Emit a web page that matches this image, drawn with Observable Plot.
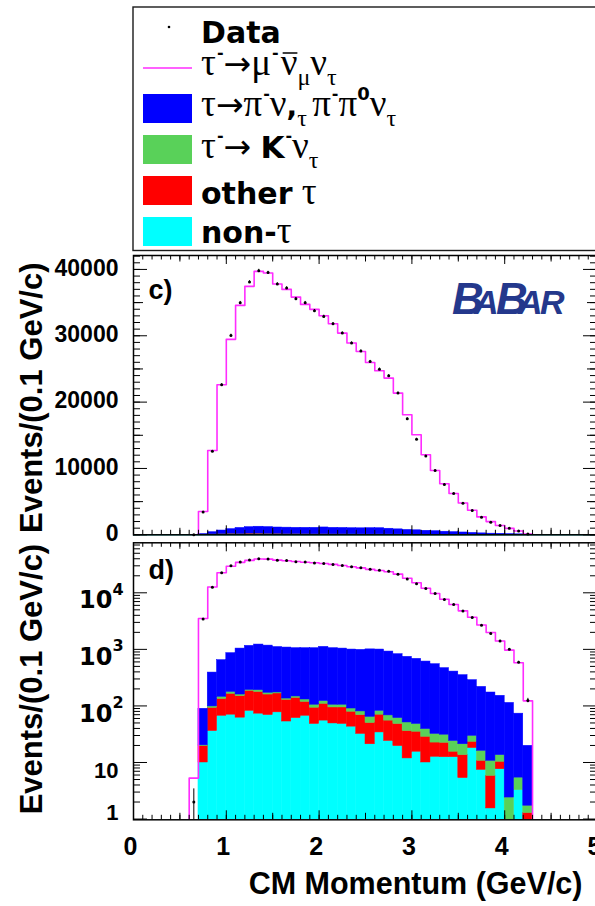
<!DOCTYPE html>
<html><head><meta charset="utf-8">
<script src="https://cdn.jsdelivr.net/npm/d3@7"></script>
<script src="https://cdn.jsdelivr.net/npm/@observablehq/plot@0.6"></script>
<style>
html,body{margin:0;padding:0;background:#fff;overflow:hidden;}
#wrap{position:relative;width:595px;height:906px;overflow:hidden;background:#fff;}
#wrap > svg{position:absolute;left:0;}
</style></head>
<body><div id="wrap"></div>
<script>
// ---------- data (bins of 0.1 GeV/c, lower edges) ----------
const binLow = [0.6,0.7,0.8,0.9,1.0,1.1,1.2,1.3,1.4,1.5,1.6,1.7,1.8,1.9,2.0,2.1,2.2,2.3,2.4,2.5,2.6,2.7,2.8,2.9,3.0,3.1,3.2,3.3,3.4,3.5,3.6,3.7,3.8,3.9,4.0,4.1,4.2];
const mcMuon = [5.3,3520,12700,22620,29460,34580,37450,39710,39460,37800,36990,35830,34730,33980,33020,31810,30400,28900,27640,25980,24730,23620,21360,18090,15080,12060,9700,7700,6230,4800,3700,2700,1990,1410,970,580,123];
const dataCounts = [2,3450,12600,22620,30060,34990,38100,39820,39520,37800,37190,35590,34990,33780,32920,31820,30400,28900,27690,26130,24970,23970,21360,17500,14420,11860,9700,7590,6230,4770,3660,2660,1900,1410,1000,590,125];
const nonTau = [0,10,36,67,70,62,82,73,69,77,53,61,67,48,55,49,48,43,32,21,34,24,19.5,11.8,15.5,10,12.6,12.4,12.4,5.3,18,7.4,1.54,7.6,0,3.25,0];
const otherTau = [0,9.5,56.5,66,94,87,103,104,90,89,75,78,51,45,54,45,46,36,37,29,36,31,28.5,24.2,19.5,18.5,9.9,9.9,3.1,8.2,5.2,3.3,4.26,2.7,0,0,1.28];
const kaonNu = [0,0.6,5.5,12,13,10,7,13,12,7,7,8,12,12,13,11,11,11,11,14,12,13,13,15,13,10.5,9.5,8.7,8.5,7.5,6.4,5.4,4.9,3.2,2.4,2.15,0.44];
const piNu = [0,69,291,500,680,874,961,1027,995,927,942,903,920,945,985,945,928,903,900,936,911,847,761,687,632,570,515,435,381,329,256,201,162,137.5,110.6,67.6,18];

const xTicks = [0,1,2,3,4,5];
const xTickLabels = ["0","1","2","3","4","5"];
const linTicks = [0,10000,20000,30000,40000];
const linTickLabels = ["0","10000","20000","30000","40000"];
const logTicks = [1,10,100,1000,10000];
const logTickBase = ["1","10","10","10","10"];
const logTickExp = ["","","2","3","4"];
const yTitle = "Events/(0.1 GeV/c)";
const xTitle = "CM Momentum (GeV/c)";

// ---------- styles ----------
const PINK = "#ff2cff", BLUE = "#0000ff", GREEN = "#59d159", RED = "#ff0000", CYAN = "#00ffff";
const SERIF = "'Liberation Serif','DejaVu Serif',serif";
const LSANS = "'DejaVu Sans',sans-serif";
const AX = "'Liberation Sans',Arial,sans-serif";
const components = [
  {key:"non", values: nonTau, color: CYAN},
  {key:"other", values: otherTau, color: RED},
  {key:"K", values: kaonNu, color: GREEN},
  {key:"pi", values: piNu, color: BLUE}
];
const hiEdge = lo => +(lo + 0.1).toFixed(1);

function buildStack(floor) {
  const rows = [];
  binLow.forEach((lo, i) => {
    let base = 0;
    components.forEach(c => {
      const v = c.values[i];
      if (v > 0) rows.push({key: c.key, x1: lo, x2: hiEdge(lo), y1: base === 0 ? floor : base, y2: base + v});
      base += v;
    });
  });
  return rows;
}
function stepPoints(floor) {
  const pts = [{x: binLow[0], y: floor}];
  binLow.forEach((lo, i) => { pts.push({x: lo, y: mcMuon[i]}); pts.push({x: hiEdge(lo), y: mcMuon[i]}); });
  pts.push({x: hiEdge(binLow[binLow.length - 1]), y: floor});
  return pts;
}
function dataRows(floor) {
  return binLow.map((lo, i) => {
    const v = dataCounts[i], e = Math.sqrt(v);
    return {x: +(lo + 0.05).toFixed(2), v, lo: Math.max(v - e, floor), hi: v + e};
  });
}

const xMinor = d3.range(0, 51).map(i => i / 10);
const xMedium = d3.range(0, 5).map(i => i + 0.5);
const FL = 133, FR = 597, FW = FR - FL;

function frameTicks(H, ySets) {
  const m = [];
  for (const [arr, len] of [[xMinor, 4.5], [xMedium, 6.5], [xTicks, 9]]) {
    m.push(Plot.ruleX(arr, {x: d => d, insetTop: H - len, stroke: "black", strokeWidth: 1}));
    m.push(Plot.ruleX(arr, {x: d => d, insetBottom: H - len, stroke: "black", strokeWidth: 1}));
  }
  for (const [arr, len] of ySets) {
    m.push(Plot.ruleY(arr, {y: d => d, insetRight: FW - len, stroke: "black", strokeWidth: 1}));
    m.push(Plot.ruleY(arr, {y: d => d, insetLeft: FW - len, stroke: "black", strokeWidth: 1}));
  }
  return m;
}
function histMarks(floor) {
  const st = buildStack(floor);
  return components.map(c => Plot.rect(st.filter(r => r.key === c.key),
    {x1: "x1", x2: "x2", y1: "y1", y2: "y2", fill: c.color, stroke: c.color, strokeWidth: 0.5, clip: true}));
}

const wrap = document.getElementById("wrap");

// ---------- legend ----------
const leg = d3.select(wrap).append("svg").attr("width", 595).attr("height", 252).style("top", "0px");
leg.append("rect").attr("x", 133).attr("y", 7).attr("width", 470).attr("height", 243.5)
  .attr("fill", "white").attr("stroke", "#1a1a1a").attr("stroke-width", 1.4);
function rich(g, x0, base, segs) {
  let x = x0;
  for (const s of segs) {
    x += s.dx || 0;
    const t = g.append("text").attr("x", x).attr("y", base + (s.dy || 0))
      .attr("font-family", s.f).attr("font-size", s.s).attr("font-weight", s.w || "normal")
      .attr("fill", s.c || "black").text(s.t);
    const w = t.node().getComputedTextLength();
    if (s.bar) g.append("line").attr("x1", x + 2).attr("x2", x + w).attr("y1", base - s.bar).attr("y2", base - s.bar)
      .attr("stroke", "black").attr("stroke-width", 1.5);
    x += w + (s.after || 0);
  }
}
const NB = "\u00a0";
const G = t => ({t, f: SERIF, s: 37});
const ARROW = {t: "→", f: LSANS, s: 33};
const sup = t => ({t, f: LSANS, s: 16, w: "bold", dy: -17, dx: 1});
const sub = t => ({t, f: SERIF, s: 24, dy: 10});
const B = (t, s = 30) => ({t, f: LSANS, s, w: "bold"});
const swatches = [[BLUE, 94], [GREEN, 135], [RED, 176], [CYAN, 217]];
swatches.forEach(([c, y]) => leg.append("rect").attr("x", 143).attr("y", y).attr("width", 49).attr("height", 29).attr("fill", c));
leg.append("circle").attr("cx", 169).attr("cy", 27).attr("r", 1.3).attr("fill", "black");
leg.append("line").attr("x1", 143).attr("x2", 192).attr("y1", 68).attr("y2", 68).attr("stroke", PINK).attr("stroke-width", 1.5);
rich(leg, 201, 43, [B("Data")]);
rich(leg, 201, 75, [G("τ"), sup("-"), ARROW, G("μ"), sup("-"), {...G("ν"), bar: 22, dx: 2}, sub("μ"), G("ν"), sub("τ")]);
rich(leg, 201, 116, [G("τ"), ARROW, G("π"), sup("-"), G("ν"), {t: ",", f: LSANS, s: 28, w: "bold"}, sub("τ"), {...G(NB), dx: -4}, G("π"), sup("-"), G("π"), {t: "0", f: LSANS, s: 18, w: "bold", dy: -16}, G("ν"), sub("τ")]);
rich(leg, 201, 158, [G("τ"), sup("-"), ARROW, G(NB), B("K", 31), sup("-"), G("ν"), sub("τ")]);
rich(leg, 201, 204, [B("other"), G(NB), G("τ")]);
rich(leg, 201, 243, [B("non-"), G("τ")]);

// ---------- panel c (linear) ----------
const Hc = 300, mTc = 5, mBc = 15.7, FHc = Hc - mTc - mBc;
const linMinor = d3.range(0, 42001, 1000), linMed = d3.range(5000, 42001, 10000);
const plotC = Plot.plot({
  width: 595, height: Hc, marginTop: mTc, marginBottom: mBc, marginLeft: FL, marginRight: 595 - FR,
  style: {background: "transparent", fontFamily: AX},
  x: {domain: [0, 5], axis: null},
  y: {domain: [0, 42100], axis: null},
  marks: [
    ...histMarks(0),
    Plot.ruleY([0], {stroke: "#13a3a3", strokeWidth: 1.5}),
    Plot.line(stepPoints(0), {x: "x", y: "y", stroke: PINK, strokeWidth: 1.6, clip: true}),
    Plot.ruleX(dataRows(0), {x: "x", y1: "lo", y2: "hi", stroke: "black", strokeWidth: 1}),
    Plot.dot(dataRows(0), {x: "x", y: "v", r: 1.5, fill: "black"}),
    ...frameTicks(FHc, [[linMinor, 7], [linMed, 10], [linTicks, 14]]),
    Plot.frame({stroke: "black", strokeWidth: 1.5}),
    Plot.axisY({ticks: linTicks, anchor: "left", tickSize: 0, tickPadding: 15, label: null, dy: -1,
      tickFormat: d => linTickLabels[linTicks.indexOf(d)], fontSize: 23, fontWeight: "bold", fontFamily: AX}),
    Plot.text(["c)"], {text: d => d, frameAnchor: "top-left", textAnchor: "start", lineAnchor: "bottom",
      dx: 15, dy: 43, fontSize: 27, fontWeight: "bold", fontFamily: AX}),
    Plot.text([yTitle], {text: d => d, frameAnchor: "top-left", rotate: -90, textAnchor: "end", lineAnchor: "bottom",
      dx: 41 - FL, dy: 7, fontSize: 31, fontWeight: "bold", fontFamily: AX})
  ]
});
plotC.style.top = "250px";
wrap.appendChild(plotC);

// ---------- panel d (log) ----------
const Hd = 369, mTd = 5.3, mBd = 86.7, FHd = Hd - mTd - mBd;
const logMinor = [];
logTicks.forEach(p => [2,3,4,5,6,7,8,9].forEach(k => { if (k * p < 76600) logMinor.push(k * p); }));
const expIdx = logTickExp.map((e, i) => i).filter(i => logTickExp[i] !== "");
const plainIdx = logTickExp.map((e, i) => i).filter(i => logTickExp[i] === "" && logTicks[i] !== 1);
const oneIdx = logTickExp.map((e, i) => i).filter(i => logTicks[i] === 1);
const plotD = Plot.plot({
  width: 595, height: Hd, marginTop: mTd, marginBottom: mBd, marginLeft: FL, marginRight: 595 - FR,
  style: {background: "transparent", fontFamily: AX},
  x: {domain: [0, 5], axis: null},
  y: {type: "log", domain: [0.97, 76600], axis: null},
  marks: [
    ...histMarks(0.1),
    Plot.line(stepPoints(0.1), {x: "x", y: "y", stroke: PINK, strokeWidth: 1.6, clip: true}),
    Plot.ruleX(dataRows(0.1), {x: "x", y1: "lo", y2: "hi", stroke: "black", strokeWidth: 1, clip: true}),
    Plot.dot(dataRows(0.1), {x: "x", y: "v", r: 1.5, fill: "black"}),
    ...frameTicks(FHd, [[logMinor, 7], [logTicks, 14]]),
    Plot.frame({stroke: "black", strokeWidth: 1.5}),
    Plot.text(expIdx, {y: i => logTicks[i], text: i => logTickBase[i], frameAnchor: "left", textAnchor: "end",
      dx: -21, dy: 8, fontSize: 24, fontWeight: "bold", fontFamily: LSANS}),
    Plot.text(expIdx, {y: i => logTicks[i], text: i => logTickExp[i], frameAnchor: "left", textAnchor: "start",
      dx: -21, dy: -3, fontSize: 16, fontWeight: "bold", fontFamily: LSANS}),
    Plot.text(plainIdx, {y: i => logTicks[i], text: i => logTickBase[i], frameAnchor: "left", textAnchor: "end",
      dx: -15, dy: 8, fontSize: 22, fontWeight: "bold", fontFamily: AX}),
    Plot.text(oneIdx, {y: i => logTicks[i], text: i => logTickBase[i], frameAnchor: "left", textAnchor: "end",
      dx: -15, dy: -6, fontSize: 22, fontWeight: "bold", fontFamily: AX}),
    Plot.axisX({ticks: xTicks, anchor: "bottom", tickSize: 0, tickPadding: 17, label: null, dx: -3,
      tickFormat: d => xTickLabels[xTicks.indexOf(d)], fontSize: 25, fontWeight: "bold", fontFamily: AX}),
    Plot.text(["d)"], {text: d => d, frameAnchor: "top-left", textAnchor: "start", lineAnchor: "bottom",
      dx: 15, dy: 36, fontSize: 27, fontWeight: "bold", fontFamily: AX}),
    Plot.text([yTitle], {text: d => d, frameAnchor: "top-left", rotate: -90, textAnchor: "end", lineAnchor: "bottom",
      dx: 41 - FL, dy: 1, fontSize: 31, fontWeight: "bold", fontFamily: AX}),
    Plot.text([xTitle], {text: d => d, frameAnchor: "bottom-right", textAnchor: "end", lineAnchor: "bottom",
      dx: -15, dy: 74, fontSize: 30.5, fontWeight: "bold", fontFamily: AX})
  ]
});
plotD.style.top = "537px";
wrap.appendChild(plotD);

// ---------- BaBar logo ----------
const logo = d3.select(wrap).append("svg").attr("width", 595).attr("height", 906).style("top", "0px").style("pointer-events", "none");
const logoLetters = [["B", 44, 452], ["A", 34, 474], ["B", 44, 496], ["A", 34, 518], ["R", 34, 540]];
logoLetters.forEach(([t, s, x]) => logo.append("text").attr("x", x).attr("y", 314).attr("font-family", AX)
  .attr("font-style", "italic").attr("font-weight", "bold").attr("font-size", s).attr("fill", "#24388c").text(t));
</script>
</body></html>
